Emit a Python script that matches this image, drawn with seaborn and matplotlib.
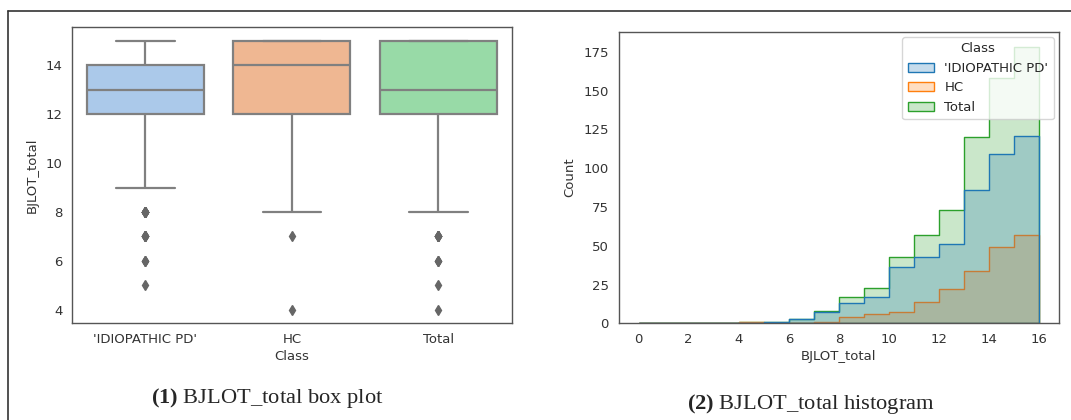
import numpy as np
import pandas as pd
import matplotlib
matplotlib.use("Agg")
import matplotlib.pyplot as plt
from matplotlib.lines import Line2D
import seaborn as sns

# ---- data (counts per BJLOT_total score) ----
scores = [4, 5, 6, 7, 8, 9, 10, 11, 12, 13, 14, 15]
pd_counts = [0, 1, 3, 7, 13, 17, 36, 43, 51, 86, 109, 121]
hc_counts = [1, 0, 0, 1, 4, 6, 7, 14, 22, 34, 49, 57]
total_counts = [1, 1, 3, 8, 17, 23, 43, 57, 73, 120, 158, 178]
classes = ["'IDIOPATHIC PD'", "HC", "Total"]
bin_edges = list(range(0, 17))

rows = []
for cls, cnts in zip(classes, [pd_counts, hc_counts, total_counts]):
    for s, c in zip(scores, cnts):
        rows.extend([(s, cls)] * c)
df = pd.DataFrame(rows, columns=["BJLOT_total", "Class"])

sns.set_theme(style="white")
plt.rcParams["font.family"] = ["DejaVu Sans"]
plt.rcParams["mathtext.fontset"] = "custom"
plt.rcParams["mathtext.bf"] = "Liberation Serif:bold"
plt.rcParams["mathtext.rm"] = "Liberation Serif"

W, H = 1071, 420
fig = plt.figure(figsize=(W / 100, H / 100), dpi=100)

def axes_px(x0, y0, x1, y1):
    return fig.add_axes([x0 / W, 1 - y1 / H, (x1 - x0) / W, (y1 - y0) / H])

ax1 = axes_px(72, 27.3, 511.7, 323.3)
ax2 = axes_px(618.7, 31.7, 1059, 323.3)

# ---- box plot ----
pastel = sns.color_palette("pastel")[:3]
sns.boxplot(data=df, x="Class", y="BJLOT_total", order=classes, hue="Class",
            hue_order=classes, palette=pastel, saturation=0.75, legend=False,
            linecolor="#808080", linewidth=1.6, width=0.8, ax=ax1,
            flierprops=dict(marker="d", markerfacecolor="#666666",
                            markeredgecolor="#666666", markersize=5.5))
ax1.set_ylim(3.45, 15.55)
ax1.set_yticks([4, 6, 8, 10, 12, 14])

# ---- histogram ----
sns.histplot(data=df, x="BJLOT_total", hue="Class", hue_order=classes,
             bins=bin_edges, element="step", multiple="layer",
             palette=sns.color_palette("tab10")[:3], ax=ax2)
ax2.set_xlim(-0.8, 16.8)
ax2.set_ylim(0, 188)
ax2.set_xticks(range(0, 17, 2))
ax2.set_yticks(range(0, 176, 25))
sns.move_legend(ax2, "upper right", title="Class", fontsize=9.5,
                title_fontsize=9.5, borderaxespad=0.4)

for ax in (ax1, ax2):
    ax.tick_params(labelsize=9.5, colors="#333333", length=0, pad=7)
    ax.xaxis.label.set_size(9.5)
    ax.yaxis.label.set_size(9.5)
    ax.xaxis.label.set_color("#333333")
    ax.yaxis.label.set_color("#333333")
    ax.xaxis.labelpad = 3
    ax.yaxis.labelpad = 5
    for sp in ax.spines.values():
        sp.set_color("#555555")
        sp.set_linewidth(1.0)

# ---- captions ----
fig.text(267 / W, 1 - 403 / H, r"$\mathbf{(1)}$ BJLOT_total box plot",
         ha="center", va="baseline", fontsize=16.2, family="Liberation Serif")
fig.text(811 / W, 1 - 409 / H, r"$\mathbf{(2)}$ BJLOT_total histogram",
         ha="center", va="baseline", fontsize=16.2, family="Liberation Serif")

# ---- outer frame (top and left) ----
fig.add_artist(Line2D([8 / W, 1.0], [1 - 11 / H, 1 - 11 / H],
                      transform=fig.transFigure, color="#333333", lw=1.2))
fig.add_artist(Line2D([8 / W, 8 / W], [0.0, 1 - 11 / H],
                      transform=fig.transFigure, color="#333333", lw=1.2))

fig.savefig("out.png", dpi=100)
